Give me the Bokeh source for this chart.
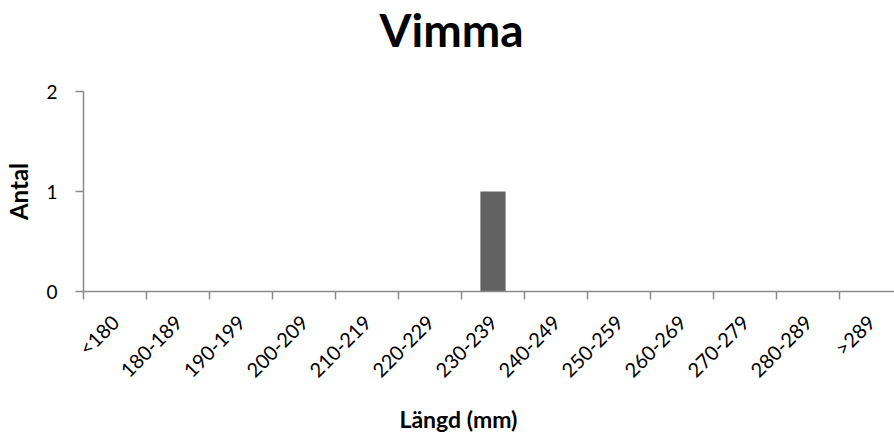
import math
from bokeh.plotting import figure
from bokeh.models import Range1d, FixedTicker, Title, CustomJSTickFormatter
from bokeh.embed import file_html
from bokeh.resources import INLINE

# ---- data ----
categories = ["<180", "180-189", "190-199", "200-209", "210-219", "220-229",
              "230-239", "240-249", "250-259", "260-269", "270-279", "280-289", ">289"]
counts = [0, 0, 0, 0, 0, 0, 1, 0, 0, 0, 0, 0, 0]
y_ticks = [0, 1, 2]

FONT = "Lato"
AXIS_COLOR = "#8a8a8a"
AXIS_W = 1.5

centers = [i + 0.5 for i in range(len(categories))]
bounds = list(range(len(categories) + 1))

p = figure(width=894, height=434, output_backend="svg", toolbar_location=None,
           x_range=Range1d(0, 12.873), y_range=Range1d(0, 2),
           title_location=None,
           min_border_left=83, min_border_right=0,
           min_border_top=91, min_border_bottom=141)

p.vbar(x=centers, top=counts, width=0.4, fill_color="#626262", line_color=None)

# spacing element between frame and chart title, then the title itself
p.add_layout(Title(text=" ", text_font_size="1px", standoff=30), "above")
p.add_layout(Title(text="Vimma", align="left", offset=296, text_font=FONT,
                   text_font_size="46px", text_font_style="bold", text_color="black",
                   vertical_align="top", standoff=0), "above")

# spacing element between x axis and x axis title, then the axis title
p.add_layout(Title(text=" ", text_font_size="1px", standoff=9), "below")
p.add_layout(Title(text="Längd (mm)", align="left", offset=316, text_font=FONT,
                   text_font_size="23px", text_font_style="bold", text_color="black",
                   vertical_align="top", standoff=0), "below")

p.xgrid.visible = False
p.ygrid.visible = False
p.outline_line_color = None

xa = p.xaxis[0]
xa.ticker = FixedTicker(ticks=centers, minor_ticks=bounds)
xa.formatter = CustomJSTickFormatter(args=dict(labels=categories),
                                     code="return labels[Math.floor(tick)];")
xa.major_tick_line_color = None
xa.major_tick_out = 0
xa.major_tick_in = 0
xa.minor_tick_line_color = AXIS_COLOR
xa.minor_tick_line_width = AXIS_W
xa.minor_tick_out = 8
xa.minor_tick_in = 0
xa.axis_line_color = AXIS_COLOR
xa.axis_line_width = AXIS_W
xa.major_label_orientation = math.pi / 4
xa.major_label_standoff = 19
xa.major_label_text_font = FONT
xa.major_label_text_font_size = "20px"
xa.major_label_text_color = "black"

ya = p.yaxis[0]
ya.ticker = FixedTicker(ticks=y_ticks, minor_ticks=[])
ya.minor_tick_line_color = None
ya.major_tick_line_color = AXIS_COLOR
ya.major_tick_line_width = AXIS_W
ya.major_tick_out = 8
ya.major_tick_in = 0
ya.axis_line_color = AXIS_COLOR
ya.axis_line_width = AXIS_W
ya.major_label_standoff = 18
ya.major_label_text_font = FONT
ya.major_label_text_font_size = "19px"
ya.major_label_text_color = "black"
ya.axis_label = "Antal"
ya.axis_label_text_font = FONT
ya.axis_label_text_font_size = "24px"
ya.axis_label_text_font_style = "bold"
ya.axis_label_text_color = "black"
ya.axis_label_standoff = 10

open("out.html", "w").write(file_html(p, INLINE))
